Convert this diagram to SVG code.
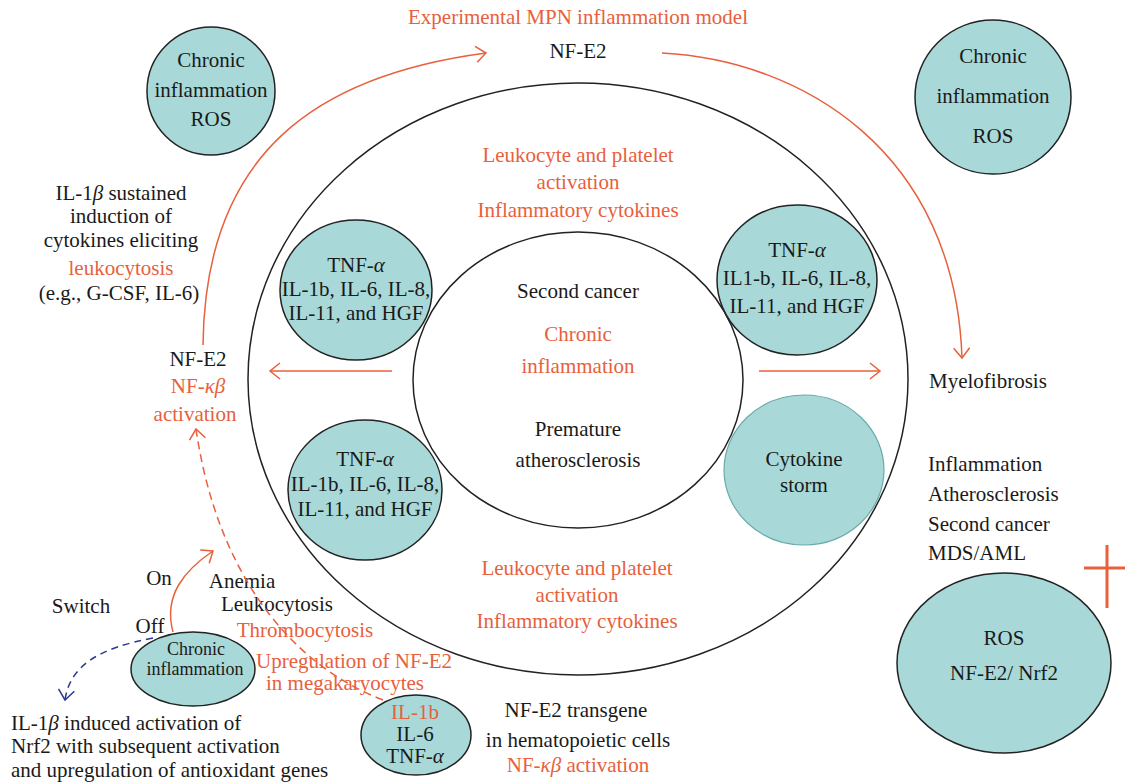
<svg xmlns="http://www.w3.org/2000/svg" width="1125" height="782" viewBox="0 0 1125 782" font-family="Liberation Serif, DejaVu Serif, serif">
<defs>
<style>
text{font-family:'Liberation Serif','DejaVu Serif',serif;font-size:21px;fill:#1a1a1a;text-anchor:middle}
.o{fill:#e8603c}
.l{text-anchor:start}
.i{font-style:italic}
.s{font-size:18px}
.node{fill:#a8d9d8;stroke:#222;stroke-width:1.5}
.ring{fill:none;stroke:#222;stroke-width:1.5}
.arr{fill:none;stroke:#e8603c;stroke-width:1.5}
</style>
<marker id="ah" markerUnits="userSpaceOnUse" markerWidth="14" markerHeight="18" refX="12" refY="9" orient="auto">
<path d="M2,1 L12,9 L2,17" fill="none" stroke="#e8603c" stroke-width="1.5"/>
</marker>
<marker id="ahb" markerUnits="userSpaceOnUse" markerWidth="14" markerHeight="18" refX="12" refY="9" orient="auto">
<path d="M2,1 L12,9 L2,17" fill="none" stroke="#2b3a8f" stroke-width="1.5"/>
</marker>
</defs>
<rect width="1125" height="782" fill="#fff"/>

<g id="outer-ring"><ellipse class="ring" cx="578" cy="379" rx="330" ry="296"/></g>

<g id="leuko-top">
<text class="o" x="578" y="162">Leukocyte and platelet</text>
<text class="o" x="578" y="189">activation</text>
<text class="o" x="578" y="217">Inflammatory cytokines</text>
</g>
<g id="leuko-bottom">
<text class="o" x="577" y="575">Leukocyte and platelet</text>
<text class="o" x="577" y="602">activation</text>
<text class="o" x="577" y="628">Inflammatory cytokines</text>
</g>

<g id="inner-ring">
<ellipse class="ring" cx="578" cy="380" rx="165" ry="148"/>
<text x="578" y="298">Second cancer</text>
<text class="o" x="578" y="341">Chronic</text>
<text class="o" x="578" y="373">inflammation</text>
<text x="578" y="436">Premature</text>
<text x="578" y="467">atherosclerosis</text>
</g>

<g id="tnf-upper-left">
<ellipse class="node" cx="356" cy="290" rx="76" ry="70"/>
<text x="356" y="272">TNF-<tspan class="i">α</tspan></text>
<text x="356" y="296">IL-1b, IL-6, IL-8,</text>
<text x="356" y="320">IL-11, and HGF</text>
</g>
<g id="tnf-lower-left">
<ellipse class="node" cx="365" cy="490" rx="77" ry="70"/>
<text x="365" y="466">TNF-<tspan class="i">α</tspan></text>
<text x="365" y="491">IL-1b, IL-6, IL-8,</text>
<text x="365" y="516">IL-11, and HGF</text>
</g>
<g id="tnf-upper-right">
<ellipse class="node" cx="797" cy="280" rx="80" ry="75"/>
<text x="797" y="257">TNF-<tspan class="i">α</tspan></text>
<text x="797" y="285">IL1-b, IL-6, IL-8,</text>
<text x="797" y="313">IL-11, and HGF</text>
</g>
<g id="cytokine-storm">
<ellipse cx="804" cy="470" rx="80" ry="75" fill="#a8d9d8" stroke="#6aaaa9" stroke-width="1.2"/>
<text x="804" y="466">Cytokine</text>
<text x="804" y="492">storm</text>
</g>

<g id="chronic-tl">
<circle class="node" cx="211" cy="91" r="64"/>
<text x="211" y="67">Chronic</text>
<text x="211" y="97">inflammation</text>
<text x="211" y="126">ROS</text>
</g>
<g id="chronic-tr">
<ellipse class="node" cx="993" cy="97" rx="78" ry="77"/>
<text x="993" y="63">Chronic</text>
<text x="993" y="103">inflammation</text>
<text x="993" y="143">ROS</text>
</g>
<g id="ros-nrf2">
<ellipse class="node" cx="1004" cy="663" rx="107" ry="90"/>
<text x="1004" y="645">ROS</text>
<text x="1004" y="680">NF-E2/ Nrf2</text>
</g>
<g id="chronic-small">
<ellipse class="node" cx="193" cy="669" rx="62" ry="37"/>
<text class="s" x="196" y="655">Chronic</text>
<text class="s" x="195" y="675">inflammation</text>
</g>
<g id="il1b">
<ellipse class="node" cx="416" cy="735" rx="55" ry="40"/>
<text class="o" x="415" y="719">IL-1b</text>
<text x="415" y="741">IL-6</text>
<text x="415" y="763">TNF-<tspan class="i">α</tspan></text>
</g>

<g id="labels">
<text class="o" x="578" y="24">Experimental MPN inflammation model</text>
<text x="578" y="58">NF-E2</text>
<text x="121" y="200">IL-1<tspan class="i">β</tspan> sustained</text>
<text x="121" y="223">induction of</text>
<text x="121" y="247">cytokines eliciting</text>
<text class="o" x="121" y="275">leukocytosis</text>
<text x="119" y="300">(e.g., G-CSF, IL-6)</text>
<text x="198" y="366">NF-E2</text>
<text class="o" x="198" y="393">NF-<tspan class="i">κβ</tspan></text>
<text class="o" x="195" y="421">activation</text>
<text class="l" x="929" y="388">Myelofibrosis</text>
<text class="l" x="928" y="471">Inflammation</text>
<text class="l" x="928" y="501">Atherosclerosis</text>
<text class="l" x="928" y="531">Second cancer</text>
<text class="l" x="928" y="560">MDS/AML</text>
<text x="159" y="585">On</text>
<text x="81" y="613">Switch</text>
<text x="150" y="633">Off</text>
<text x="242" y="588">Anemia</text>
<text x="277" y="611">Leukocytosis</text>
<text class="o" x="305" y="637">Thrombocytosis</text>
<text class="o" x="354" y="668">Upregulation of NF-E2</text>
<text class="o" x="345" y="690">in megakaryocytes</text>
<text class="l" x="11" y="730">IL-1<tspan class="i">β</tspan> induced activation of</text>
<text class="l" x="11" y="753">Nrf2 with subsequent activation</text>
<text class="l" x="11" y="777">and upregulation of antioxidant genes</text>
<text x="576" y="717">NF-E2 transgene</text>
<text x="578" y="747">in hematopoietic cells</text>
<text class="o" x="578" y="772">NF-<tspan class="i">κβ</tspan> activation</text>
</g>

<g id="connectors">
<path class="arr" d="M203,345 C205,150 320,75 486,53" marker-end="url(#ah)"/>
<path class="arr" d="M662,53 C800,60 955,150 962,358" marker-end="url(#ah)"/>
<path class="arr" d="M392,371 L270,371" marker-end="url(#ah)"/>
<path class="arr" d="M759,371 L880,371" marker-end="url(#ah)"/>
<path class="arr" d="M383,700 C280,660 215,560 196,429" stroke-dasharray="8,5" marker-end="url(#ah)"/>
<path class="arr" d="M173,632 C163,595 185,570 213,551" marker-end="url(#ah)"/>
<path d="M153,638 C100,648 70,665 65,700" fill="none" stroke="#2b3a8f" stroke-width="1.5" stroke-dasharray="7,5" marker-end="url(#ahb)"/>
<path d="M1107,545 L1107,608 M1084,568 L1125,568" fill="none" stroke="#e8603c" stroke-width="3"/>
</g>
</svg>
